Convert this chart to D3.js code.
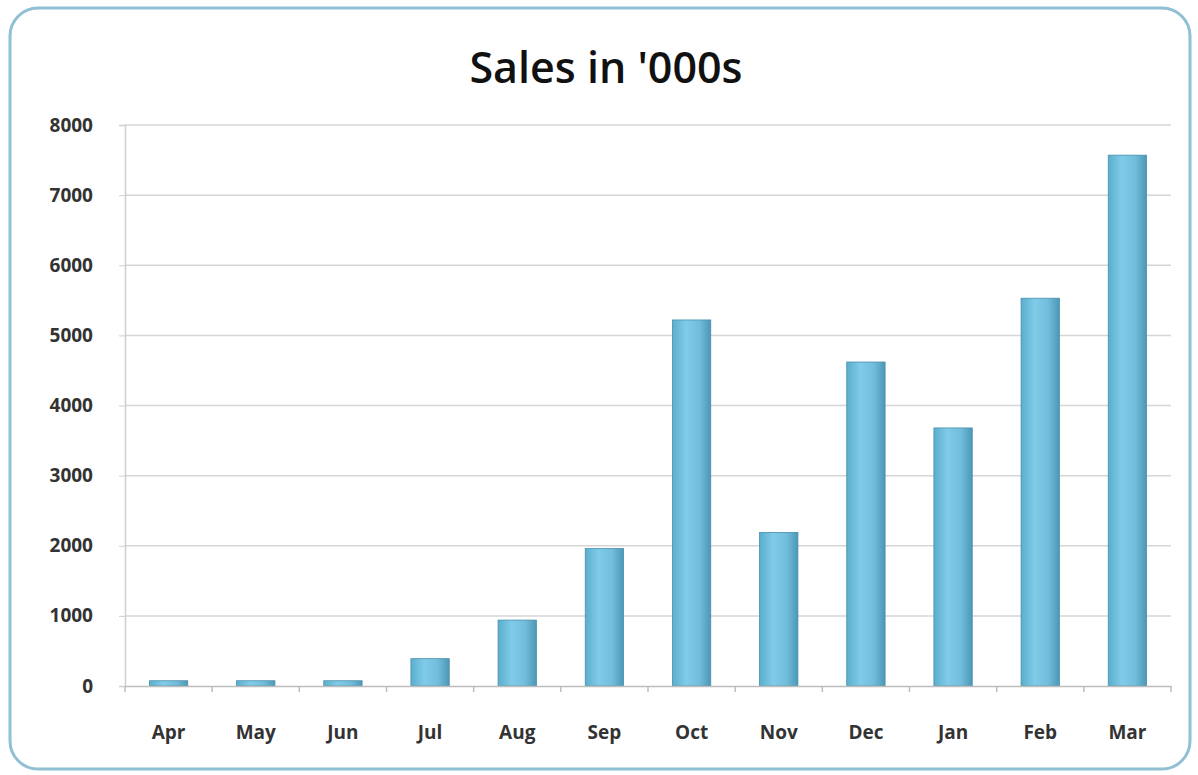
<!DOCTYPE html>
<html>
<head>
<meta charset="utf-8">
<script src="https://cdn.jsdelivr.net/npm/d3@7"></script>
<style>
  body { margin: 0; background: #fff; }
  svg { display: block; }
</style>
</head>
<body>
<div id="chart"></div>
<script>
var months = ["Apr", "May", "Jun", "Jul", "Aug", "Sep", "Oct", "Nov", "Dec", "Jan", "Feb", "Mar"];
var sales = [75, 75, 75, 390, 940, 1960, 5220, 2190, 4620, 3680, 5530, 7570];
var yTicks = [0, 1000, 2000, 3000, 4000, 5000, 6000, 7000, 8000];

var width = 1198, height = 775;

var svg = d3.select("#chart").append("svg")
            .attr("width", width)
            .attr("height", height);

// gradient for the bars
var grad = svg.append("defs").append("linearGradient")
              .attr("id", "barGrad")
              .attr("x1", "0%").attr("x2", "100%");
grad.append("stop").attr("offset", "0%").attr("stop-color", "#5aaecd");
grad.append("stop").attr("offset", "35%").attr("stop-color", "#7fcbe8");
grad.append("stop").attr("offset", "70%").attr("stop-color", "#72bddb");
grad.append("stop").attr("offset", "100%").attr("stop-color", "#4b98b6");

// frame
svg.append("rect")
   .attr("x", 10).attr("y", 8)
   .attr("width", 1180).attr("height", 761)
   .attr("rx", 28).attr("ry", 28)
   .attr("fill", "#fff")
   .attr("stroke", "#8fc0d3")
   .attr("stroke-width", 3);

var x = d3.scaleBand()
          .domain(months)
          .range([125, 1171])
          .paddingInner(0.56)
          .paddingOuter(0.28);

var y = d3.scaleLinear()
          .domain([0, 8000])
          .range([686, 125]);

// gridlines
svg.append("g")
   .selectAll("line")
   .data(yTicks.slice(1))
   .enter().append("line")
   .attr("x1", 125).attr("x2", 1171)
   .attr("y1", function(d){ return y(d); })
   .attr("y2", function(d){ return y(d); })
   .attr("stroke", "#d6d6d6")
   .attr("stroke-width", 1.5);

// bars
svg.append("g")
   .selectAll("rect")
   .data(sales)
   .enter().append("rect")
   .attr("x", function(d, i){ return x(months[i]); })
   .attr("width", x.bandwidth())
   .attr("y", function(d){ return y(d); })
   .attr("height", function(d){ return y(0) - y(d); })
   .attr("fill", "url(#barGrad)")
   .attr("stroke", "#4a8fab")
   .attr("stroke-width", 0.8);

// y axis
var yAxis = svg.append("g")
   .attr("transform", "translate(125,0)")
   .call(d3.axisLeft(y).tickValues(yTicks).tickFormat(d3.format("d")).tickSize(6).tickPadding(26));
yAxis.select(".domain").attr("stroke", "#cfcfcf").attr("stroke-width", 1.5);
yAxis.selectAll(".tick line").attr("stroke", "#cfcfcf");
yAxis.selectAll("text")
     .style("font-family", "'Open Sans', sans-serif")
     .style("font-weight", "bold")
     .style("font-size", "19px")
     .attr("fill", "#333");

// x axis
var xAxis = svg.append("g")
   .attr("transform", "translate(0,686)")
   .call(d3.axisBottom(x).tickSize(0).tickPadding(40));
xAxis.select(".domain").attr("stroke", "#bdbdbd").attr("stroke-width", 1.5);
xAxis.selectAll("text")
     .style("font-family", "'Open Sans', sans-serif")
     .style("font-weight", "bold")
     .style("font-size", "19px")
     .attr("fill", "#333");

// category separators
svg.append("g")
   .selectAll("line")
   .data(d3.range(months.length + 1))
   .enter().append("line")
   .attr("x1", function(i){ return 125 + i * (1046 / months.length); })
   .attr("x2", function(i){ return 125 + i * (1046 / months.length); })
   .attr("y1", 686).attr("y2", 692)
   .attr("stroke", "#bdbdbd")
   .attr("stroke-width", 1.5);

// title
svg.append("text")
   .attr("x", 606)
   .attr("y", 83)
   .attr("text-anchor", "middle")
   .style("font-family", "'Open Sans', sans-serif")
   .style("font-weight", 600)
   .style("font-size", "43px")
   .attr("fill", "#111")
   .text("Sales in '000s");
</script>
</body>
</html>
